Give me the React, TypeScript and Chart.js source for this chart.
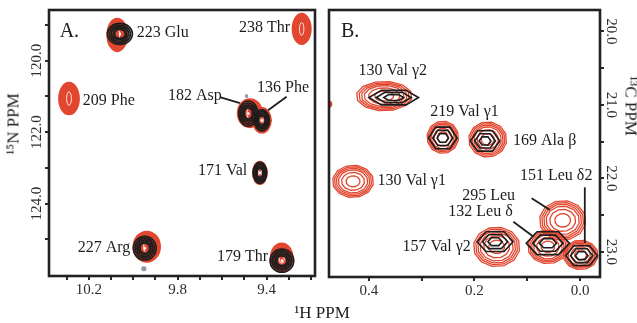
import React, { useEffect, useRef } from 'react';
import { Chart, registerables } from 'chart.js';

Chart.register(...registerables);

const SERIF = "'Liberation Serif', 'Times New Roman', 'DejaVu Serif', serif";
const RED = '#e2462f';
const INK = '#1d1d1d';
const TICK_INK = '#2e2e2e';

// ---------------- Panel A : 1H (x) vs 15N (y) ----------------
const xTicksA = [10.3, 10.2, 10.1, 10.0, 9.9, 9.8, 9.7, 9.6, 9.5, 9.4, 9.3, 9.2];
const xTickLabelsA = ['', '10.2', '', '', '', '9.8', '', '', '', '9.4', '', ''];
const yTicksA = [119, 120, 121, 122, 123, 124, 125];
const yTickLabelsA = ['', '120.0', '', '122.0', '', '124.0', ''];
const xRangeA = [9.182, 10.379];
const yRangeA = [118.58, 126.03];

// [1H ppm, 15N ppm, 1H half-width, 15N half-width]
const redPeaksA = [
  [10.072, 119.28, 0.049, 0.48], // 223 Glu
  [9.242, 119.11, 0.045, 0.45], // 238 Thr
  [10.289, 121.06, 0.049, 0.47], // 209 Phe
  [9.475, 121.47, 0.059, 0.42], // 182 Asp
  [9.421, 121.67, 0.045, 0.37], // 136 Phe
  [9.43, 123.14, 0.036, 0.34], // 171 Val
  [9.939, 125.21, 0.064, 0.45], // 227 Arg
  [9.332, 125.51, 0.053, 0.42], // 179 Thr
];
const blackPeaksA = [
  [10.06, 119.25, 0.059, 0.31], // 223 Glu
  [9.482, 121.48, 0.045, 0.37], // 182 Asp
  [9.421, 121.67, 0.036, 0.31], // 136 Phe
  [9.43, 123.14, 0.032, 0.31], // 171 Val
  [9.948, 125.25, 0.054, 0.35], // 227 Arg
  [9.331, 125.6, 0.056, 0.34], // 179 Thr
];
const minorPeaksA = [
  [9.952, 125.83, 0.012, 0.07],
  [9.49, 120.99, 0.007, 0.06],
];
const peakNamesA = ['223 Glu', '238 Thr', '209 Phe', '182 Asp', '136 Phe', '171 Val', '227 Arg', '179 Thr'];
const labelAnchorsA = [
  [9.984, 119.22], [9.524, 119.08], [10.227, 121.11], [9.844, 120.97],
  [9.443, 120.77], [9.709, 123.07], [10.25, 125.24], [9.623, 125.49],
];
const leadersA = [
  [9.61, 121.02, 9.52, 121.19],
  [9.31, 121.01, 9.393, 121.39],
];
const tagA = 'A.';
const tagAnchorA = [10.331, 119.18];

// ---------------- Panel B : 1H (x) vs 13C (y) ----------------
const xTicksB = [0.4, 0.3, 0.2, 0.1, 0.0];
const xTickLabelsB = ['0.4', '', '0.2', '', '0.0'];
const yTicksB = [20, 20.5, 21, 21.5, 22, 22.5, 23];
const yTickLabelsB = ['20.0', '', '21.0', '', '22.0', '', '23.0'];
const xRangeB = [-0.0377, 0.4755];
const yRangeB = [19.71, 23.34];

const redPeaksB = [
  [0.371, 20.88, 0.053, 0.2], // 130 Val γ2
  [0.26, 21.44, 0.03, 0.22], // 219 Val γ1
  [0.175, 21.47, 0.036, 0.24], // 169 Ala β
  [0.43, 22.04, 0.039, 0.22], // 130 Val γ1
  [0.033, 22.57, 0.044, 0.27], // 295 Leu
  [0.158, 22.93, 0.044, 0.27], // 157 Val γ2
  [0.061, 22.93, 0.038, 0.23], // 132 Leu δ
  [-0.001, 23.04, 0.033, 0.2], // 151 Leu δ2
  [0.49, 20.99, 0.02, 0.08], // edge peak
];
const blackPeaksB = [
  [0.353, 20.9, 0.047, 0.115], // 130 Val γ2
  [0.26, 21.45, 0.027, 0.17], // 219 Val γ1
  [0.18, 21.49, 0.028, 0.16], // 169 Ala β
  [0.161, 22.86, 0.034, 0.155], // 157 Val γ2
  [0.061, 22.88, 0.041, 0.18], // 132 Leu δ
  [-0.003, 23.05, 0.03, 0.155], // 151 Leu δ2
];
const peakNamesB = ['130 Val γ2', '219 Val γ1', '169 Ala β', '130 Val γ1', '151 Leu δ2', '295 Leu', '132 Leu δ', '157 Val γ2'];
const labelAnchorsB = [
  [0.4194, 20.54], [0.2836, 21.09], [0.127, 21.49], [0.3836, 22.03],
  [0.1138, 21.97], [0.2232, 22.23], [0.2496, 22.46], [0.3364, 22.93],
];
const leadersB = [
  [0.0917, 22.27, 0.0572, 22.43],
  [0.1264, 22.59, 0.0887, 22.79],
  [-0.0089, 22.12, -0.0089, 22.88],
];
const tagB = 'B.';
const tagAnchorB = [0.453, 20.0];

// ---------------- drawing helpers ----------------
type Style = 'denseRed' | 'denseBlack' | 'openRed' | 'openBlack' | 'speck';

function ring(ctx: CanvasRenderingContext2D, cx: number, cy: number, rx: number, ry: number, sides: number, rot: number) {
  ctx.beginPath();
  if (!sides) {
    ctx.ellipse(cx, cy, Math.max(rx, 0.1), Math.max(ry, 0.1), 0, 0, Math.PI * 2);
  } else {
    for (let k = 0; k <= sides; k++) {
      const a = rot + (k * 2 * Math.PI) / sides;
      const px = cx + rx * Math.cos(a);
      const py = cy + ry * Math.sin(a);
      if (k === 0) ctx.moveTo(px, py);
      else ctx.lineTo(px, py);
    }
    ctx.closePath();
  }
}

function drawPeak(ctx: CanvasRenderingContext2D, style: Style, cx: number, cy: number, rx: number, ry: number) {
  if (style === 'denseRed') {
    ctx.fillStyle = RED;
    ring(ctx, cx, cy, rx, ry, 0, 0);
    ctx.fill();
    ctx.strokeStyle = '#fbe3dc';
    ctx.lineWidth = 1;
    ring(ctx, cx, cy, rx * 0.22, ry * 0.4, 0, 0);
    ctx.stroke();
  } else if (style === 'denseBlack') {
    ctx.strokeStyle = INK;
    ctx.lineWidth = 1.7;
    [0.95, 0.8, 0.66, 0.52, 0.4].forEach((s) => {
      ring(ctx, cx, cy, rx * s, ry * s, 0, 0);
      ctx.stroke();
    });
    ctx.fillStyle = '#ffffff';
    ring(ctx, cx, cy, 1.2, 1.6, 0, 0);
    ctx.fill();
  } else if (style === 'openRed') {
    ctx.strokeStyle = RED;
    ctx.lineWidth = 1.3;
    [1, 0.91, 0.82, 0.72, 0.56, 0.34].forEach((s) => {
      ring(ctx, cx, cy, rx * s, ry * s, 12, 0.2);
      ctx.stroke();
    });
  } else if (style === 'openBlack') {
    ctx.strokeStyle = INK;
    ctx.lineWidth = 1.6;
    [1, 0.7, 0.4].forEach((s) => {
      ring(ctx, cx, cy, rx * s, ry * s, 6, 0);
      ctx.stroke();
    });
  } else {
    ctx.fillStyle = '#8d9aa8';
    ring(ctx, cx, cy, rx, ry, 0, 0);
    ctx.fill();
  }
}

const toPoints = (rows: number[][]) => rows.map(([x, y, wx, wy]) => ({ x, y, wx, wy }));

const contourPlugin = {
  id: 'contours',
  afterDatasetsDraw(chart: any) {
    const { ctx, chartArea: a, scales } = chart;
    const xs = scales.x;
    const ys = scales.y;
    ctx.save();
    ctx.beginPath();
    ctx.rect(a.left, a.top, a.right - a.left, a.bottom - a.top);
    ctx.clip();
    chart.data.datasets.forEach((ds: any, i: number) => {
      const meta = chart.getDatasetMeta(i);
      ds.data.forEach((d: any, j: number) => {
        const el = meta.data[j];
        if (!el) return;
        const rx = Math.abs(xs.getPixelForValue(d.x + d.wx) - xs.getPixelForValue(d.x));
        const ry = Math.abs(ys.getPixelForValue(d.y + d.wy) - ys.getPixelForValue(d.y));
        drawPeak(ctx, ds.contour as Style, el.x, el.y, rx, ry);
      });
    });
    ctx.restore();
    // frame
    ctx.save();
    ctx.strokeStyle = '#222';
    ctx.lineWidth = 2.6;
    ctx.strokeRect(a.left, a.top, a.right - a.left, a.bottom - a.top);
    ctx.restore();
  },
};

function makeAnnotPlugin(names: string[], anchors: number[][], leaders: number[][], tag: string, tagAnchor: number[]) {
  return {
    id: 'annot',
    afterDatasetsDraw(chart: any) {
      const { ctx, scales } = chart;
      const xs = scales.x;
      const ys = scales.y;
      ctx.save();
      ctx.strokeStyle = INK;
      ctx.lineWidth = 1.8;
      leaders.forEach(([x1, y1, x2, y2]) => {
        ctx.beginPath();
        ctx.moveTo(xs.getPixelForValue(x1), ys.getPixelForValue(y1));
        ctx.lineTo(xs.getPixelForValue(x2), ys.getPixelForValue(y2));
        ctx.stroke();
      });
      ctx.fillStyle = INK;
      ctx.textAlign = 'left';
      ctx.textBaseline = 'middle';
      ctx.font = `16px ${SERIF}`;
      names.forEach((t, i) => {
        ctx.fillText(t, xs.getPixelForValue(anchors[i][0]), ys.getPixelForValue(anchors[i][1]));
      });
      ctx.font = `20px ${SERIF}`;
      ctx.fillText(tag, xs.getPixelForValue(tagAnchor[0]), ys.getPixelForValue(tagAnchor[1]));
      ctx.restore();
    },
  };
}

function makeConfig(p: any) {
  const tickFont = { family: SERIF, size: 15 };
  const grid = { drawOnChartArea: false, drawTicks: true, tickLength: 4, color: '#2a2a2a', lineWidth: 2 };
  return {
    type: 'scatter',
    data: { datasets: p.datasets },
    plugins: [contourPlugin, makeAnnotPlugin(p.names, p.anchors, p.leaders, p.tag, p.tagAnchor)],
    options: {
      animation: false,
      responsive: false,
      maintainAspectRatio: false,
      devicePixelRatio: 1,
      events: [],
      layout: { padding: p.padding },
      plugins: { legend: { display: false }, tooltip: { enabled: false } },
      scales: {
        x: {
          type: 'linear',
          position: 'bottom',
          reverse: true,
          min: p.xRange[0],
          max: p.xRange[1],
          afterFit: (s: any) => { s.height = p.xHeight; },
          afterBuildTicks: (s: any) => { s.ticks = p.xTicks.map((v: number) => ({ value: v })); },
          ticks: {
            autoSkip: false,
            maxRotation: 0,
            minRotation: 0,
            padding: 1,
            font: tickFont,
            color: TICK_INK,
            callback: (_v: any, i: number) => p.xTickLabels[i] ?? '',
          },
          grid,
          border: { display: false },
        },
        y: {
          type: 'linear',
          position: p.yPos,
          reverse: true,
          min: p.yRange[0],
          max: p.yRange[1],
          afterFit: (s: any) => { s.width = p.yWidth; },
          afterBuildTicks: (s: any) => { s.ticks = p.yTicks.map((v: number) => ({ value: v })); },
          ticks: {
            autoSkip: false,
            minRotation: p.yRot,
            maxRotation: p.yRot,
            crossAlign: 'center',
            padding: p.yPad,
            font: tickFont,
            color: TICK_INK,
            callback: (_v: any, i: number) => p.yTickLabels[i] ?? '',
          },
          grid,
          border: { display: false },
        },
      },
    },
  } as any;
}

export default function App() {
  const refA = useRef<HTMLCanvasElement>(null);
  const refB = useRef<HTMLCanvasElement>(null);

  useEffect(() => {
    const chartA = new Chart(refA.current as HTMLCanvasElement, makeConfig({
      datasets: [
        { label: 'red A', data: toPoints(redPeaksA), pointRadius: 0, contour: 'denseRed' },
        { label: 'black A', data: toPoints(blackPeaksA), pointRadius: 0, contour: 'denseBlack' },
        { label: 'minor A', data: toPoints(minorPeaksA), pointRadius: 0, contour: 'speck' },
      ],
      names: peakNamesA, anchors: labelAnchorsA, leaders: leadersA, tag: tagA, tagAnchor: tagAnchorA,
      xTicks: xTicksA, xTickLabels: xTickLabelsA, yTicks: yTicksA, yTickLabels: yTickLabelsA,
      xRange: xRangeA, yRange: yRangeA,
      yPos: 'left', yRot: 90, yPad: -9.4,
      padding: { left: 0, top: 10, right: 5, bottom: 0 },
      xHeight: 47, yWidth: 49,
    }));
    const chartB = new Chart(refB.current as HTMLCanvasElement, makeConfig({
      datasets: [
        { label: 'red B', data: toPoints(redPeaksB), pointRadius: 0, contour: 'openRed' },
        { label: 'black B', data: toPoints(blackPeaksB), pointRadius: 0, contour: 'openBlack' },
      ],
      names: peakNamesB, anchors: labelAnchorsB, leaders: leadersB, tag: tagB, tagAnchor: tagAnchorB,
      xTicks: xTicksB, xTickLabels: xTickLabelsB, yTicks: yTicksB, yTickLabels: yTickLabelsB,
      xRange: xRangeB, yRange: yRangeB,
      yPos: 'right', yRot: -90, yPad: -6.5,
      padding: { left: 9, top: 10, right: 0, bottom: 0 },
      xHeight: 46, yWidth: 37,
    }));
    return () => {
      chartA.destroy();
      chartB.destroy();
    };
  }, []);

  const titleStyle: React.CSSProperties = {
    position: 'absolute',
    font: `17px ${SERIF}`,
    lineHeight: '1',
    color: INK,
    whiteSpace: 'nowrap',
  };

  return (
    <div style={{ position: 'fixed', left: 0, top: 0, width: 637, height: 323, background: '#fff', overflow: 'hidden' }}>
      <canvas ref={refA} width={320} height={323} style={{ position: 'absolute', left: 0, top: 0, width: 320, height: 323 }} />
      <canvas ref={refB} width={317} height={323} style={{ position: 'absolute', left: 320, top: 0, width: 317, height: 323 }} />
      <div style={{ ...titleStyle, left: 322, top: 312, transform: 'translate(-50%, -50%)' }}>¹H PPM</div>
      <div style={{ ...titleStyle, left: 13, top: 124, transform: 'translate(-50%, -50%) rotate(-90deg)' }}>¹⁵N PPM</div>
      <div style={{ ...titleStyle, left: 631, top: 106, transform: 'translate(-50%, -50%) rotate(90deg)' }}>¹³C PPM</div>
    </div>
  );
}
